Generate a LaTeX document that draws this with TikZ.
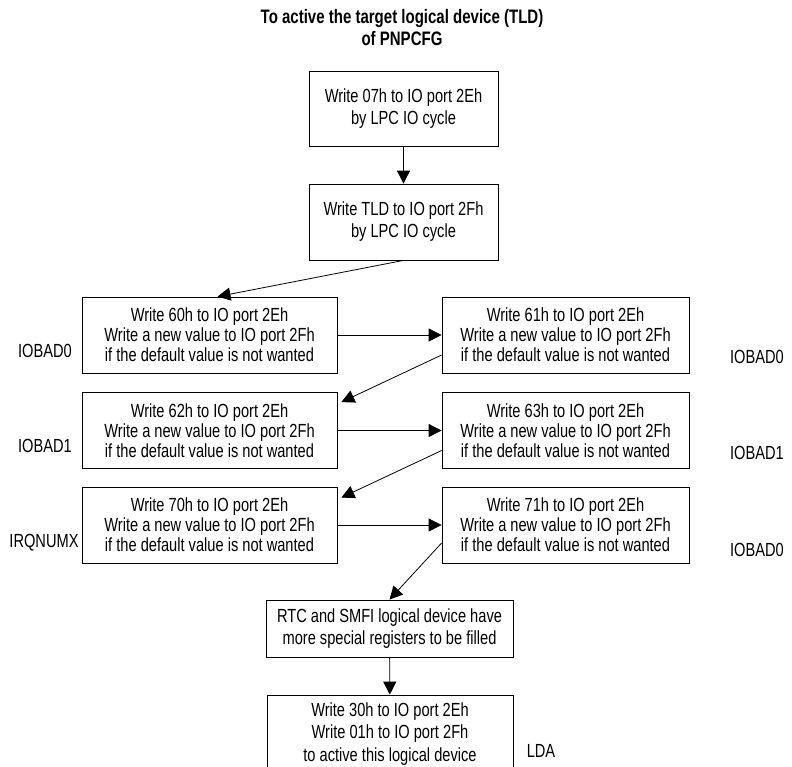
\documentclass[tikz,border=0pt]{standalone}
\usepackage{fontspec}
\setmainfont{Liberation Sans}[FakeStretch=0.77]
\usetikzlibrary{arrows.meta}

\begin{document}
\begin{tikzpicture}[x=1pt, y=-1pt, every node/.style={font=\fontsize{19}{20}\selectfont}, box/.style={draw, line width=0.8pt, align=center, inner sep=0pt}, lbox/.style={box, minimum width=255pt, minimum height=76pt}, rbox/.style={box, minimum width=247pt, minimum height=76pt}, flow/.style={line width=0.8pt, -{Triangle[length=13pt, width=13pt]}}]
	\useasboundingbox (0,0) rectangle (792,766);
	\node[font=\fontsize{19.5}{22}\selectfont\bfseries, align=center] (title) at (402,28) {To active the target logical device (TLD)\\of PNPCFG};
	\node[box, minimum width=189pt, minimum height=75pt, font=\fontsize{19}{22}\selectfont] (W07) at (403.5,108.5) {Write 07h to IO port 2Eh\\by LPC IO cycle};
	\node[box, minimum width=189pt, minimum height=76pt, font=\fontsize{19}{22}\selectfont] (WTLD) at (403.5,222) {Write TLD to IO port 2Fh\\by LPC IO cycle};
	\node[lbox] (W60) at (209.5,335) {Write 60h to IO port 2Eh\\Write a new value to IO port 2Fh\\if the default value is not wanted};
	\node[rbox] (W61) at (565.5,335) {Write 61h to IO port 2Eh\\Write a new value to IO port 2Fh\\if the default value is not wanted};
	\node[lbox] (W62) at (209.5,430.5) {Write 62h to IO port 2Eh\\Write a new value to IO port 2Fh\\if the default value is not wanted};
	\node[rbox] (W63) at (565.5,430.5) {Write 63h to IO port 2Eh\\Write a new value to IO port 2Fh\\if the default value is not wanted};
	\node[lbox] (W70) at (209.5,525) {Write 70h to IO port 2Eh\\Write a new value to IO port 2Fh\\if the default value is not wanted};
	\node[rbox] (W71) at (565.5,525) {Write 71h to IO port 2Eh\\Write a new value to IO port 2Fh\\if the default value is not wanted};
	\node[box, minimum width=247pt, minimum height=57pt, font=\fontsize{19}{22}\selectfont] (RTC) at (389.5,628.5) {RTC and SMFI logical device have\\more special registers to be filled};
	\node[box, minimum width=246pt, minimum height=78pt, font=\fontsize{19}{22.5}\selectfont] (W30) at (390,734) {Write 30h to IO port 2Eh\\Write 01h to IO port 2Fh\\to active this logical device};
	% register names beside the boxes
	\node (L60) at (45,351) {IOBAD0};
	\node (L62) at (45,446) {IOBAD1};
	\node (L70) at (44,543) {IRQNUMX};
	\node (L61) at (757,357) {IOBAD0};
	\node (L63) at (757,453) {IOBAD1};
	\node (L71) at (757,550) {IOBAD0};
	\node (L30) at (541,751) {LDA};
	\foreach \a/\b in {W07/WTLD, W60/W61, W62/W63, W70/W71, RTC/W30} {\draw[flow] (\a) -- (\b);}
	\draw[flow] (WTLD.south) -- ([xshift=8pt]W60.north);
	\draw[flow] ([shift={(0,20)}]W61.west) -- ([shift={(4,10)}]W62.north east);
	\draw[flow] ([shift={(0,20)}]W63.west) -- ([shift={(4,11)}]W70.north east);
	\draw[flow] ([shift={(0,18)}]W71.west) -- (RTC.north);
\end{tikzpicture}
\end{document}
